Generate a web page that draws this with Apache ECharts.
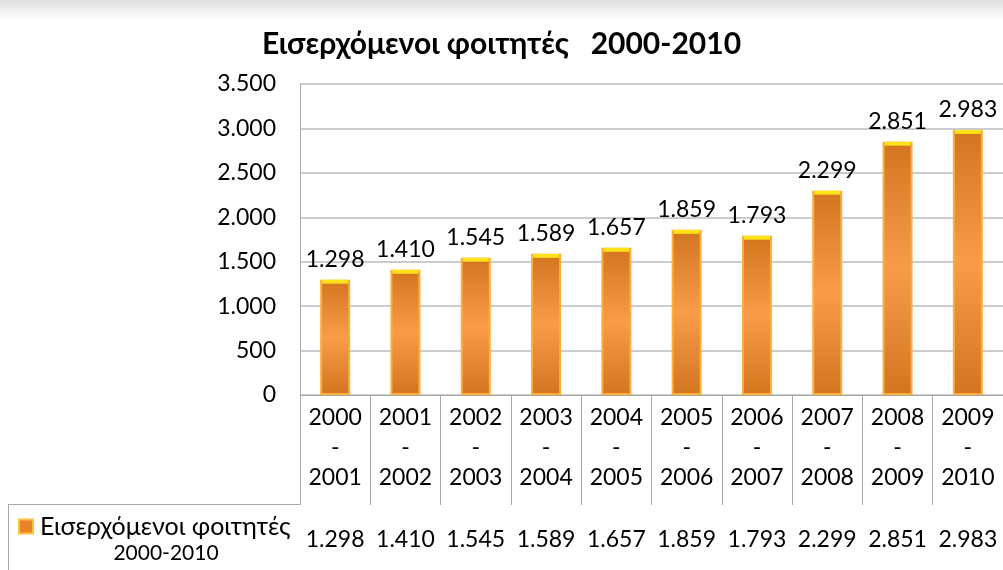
<!DOCTYPE html>
<html>
<head>
<meta charset="utf-8">
<script src="https://cdn.jsdelivr.net/npm/echarts@6/dist/echarts.min.js"></script>
<style>
  html, body { margin: 0; padding: 0; background: #fff; }
  #chart { width: 1003px; height: 570px; }
</style>
</head>
<body>
<div id="chart"></div>
<script>
// categories (academic years) and incoming students
var years = ['2000\n-\n2001', '2001\n-\n2002', '2002\n-\n2003', '2003\n-\n2004', '2004\n-\n2005',
             '2005\n-\n2006', '2006\n-\n2007', '2007\n-\n2008', '2008\n-\n2009', '2009\n-\n2010'];
var students = [1298, 1410, 1545, 1589, 1657, 1859, 1793, 2299, 2851, 2983];
var seriesName = 'Εισερχόμενοι φοιτητές';
var seriesSub = '2000-2010';
var yTicks = [0, 500, 1000, 1500, 2000, 2500, 3000, 3500];

// greek style thousands separator: 1.298
function fmt(v) {
  return String(v).replace(/\B(?=(\d{3})+(?!\d))/g, '.');
}

var font = 'Lato, "Noto Sans", sans-serif';
var myChart = echarts.init(document.getElementById('chart'));

myChart.setOption({
  animation: false,
  title: {
    text: 'Εισερχόμενοι φοιτητές   2000-2010',
    left: 'center',
    top: 24,
    textStyle: { fontFamily: font, fontSize: 30, fontWeight: 'bold', color: '#000' }
  },
  legend: {
    left: 13,
    top: 509,
    itemWidth: 14,
    itemHeight: 14,
    itemGap: 0,
    icon: 'rect',
    data: [{ name: seriesName, itemStyle: { color: '#e8832a', borderColor: '#fdc040', borderWidth: 2 } }],
    textStyle: { color: '#000', fontFamily: font, fontSize: 25, padding: [0, 0, 0, 2] }
  },
  graphic: [
    { type: 'rect', shape: { x: 0, y: 0, width: 1003, height: 20 },
      style: { fill: new echarts.graphic.LinearGradient(0, 0, 0, 1, [
        { offset: 0, color: '#e0e0e0' }, { offset: 1, color: '#ffffff' }]) }, z: -1 },
    { type: 'text', x: 166, y: 553,
      style: { text: seriesSub, align: 'center', verticalAlign: 'middle',
               fontFamily: font, fontSize: 21, fill: '#000' } },
    { type: 'line', shape: { x1: 8, y1: 504.5, x2: 300, y2: 504.5 },
      style: { stroke: '#aaa', lineWidth: 1 } },
    { type: 'line', shape: { x1: 8.5, y1: 504, x2: 8.5, y2: 570 },
      style: { stroke: '#aaa', lineWidth: 1 } }
  ],
  grid: [
    { left: 300, right: 0, top: 84, bottom: 175 },
    { left: 300, right: 0, top: 504, height: 66 }
  ],
  xAxis: [
    {
      type: 'category',
      gridIndex: 0,
      data: years,
      axisLine: { lineStyle: { color: '#aaa', width: 1 } },
      axisTick: { show: true, length: 110, interval: 0, lineStyle: { color: '#aaa' } },
      axisLabel: {
        interval: 0, margin: 8, color: '#000', fontFamily: font, fontSize: 23, lineHeight: 30
      }
    },
    {
      type: 'category',
      gridIndex: 1,
      position: 'top',
      data: students.map(fmt),
      axisLine: { show: true, lineStyle: { color: '#aaa', width: 1 } },
      axisTick: { show: true, inside: true, length: 70, interval: 0, lineStyle: { color: '#aaa' } },
      axisLabel: {
        inside: true, interval: 0, margin: 24, color: '#000', fontFamily: font, fontSize: 23
      }
    }
  ],
  yAxis: [
    {
      type: 'value',
      gridIndex: 0,
      min: yTicks[0],
      max: yTicks[yTicks.length - 1],
      interval: 500,
      axisLine: { show: true, lineStyle: { color: '#aaa' } },
      axisTick: { show: false },
      splitLine: { lineStyle: { color: '#bbb', width: 1.5 } },
      axisLabel: {
        margin: 24, color: '#000', fontFamily: font, fontSize: 23,
        formatter: function (v) { return fmt(v); }
      }
    },
    { type: 'value', gridIndex: 1, show: false }
  ],
  series: [
    {
      name: seriesName,
      type: 'bar',
      xAxisIndex: 0,
      yAxisIndex: 0,
      barWidth: 30,
      data: students,
      itemStyle: {
        color: new echarts.graphic.LinearGradient(0, 0, 0, 1, [
          { offset: 0, color: '#d3751f' },
          { offset: 0.5, color: '#f89c48' },
          { offset: 1, color: '#d3751f' }
        ]),
        borderColor: '#fdae3a',
        borderWidth: 2
      },
      label: {
        show: true,
        position: 'top',
        distance: 9,
        color: '#000',
        fontFamily: font,
        fontSize: 23,
        formatter: function (p) { return fmt(p.value); }
      }
    },
    {
      name: 'cap',
      type: 'pictorialBar',
      xAxisIndex: 0,
      yAxisIndex: 0,
      symbol: 'rect',
      symbolSize: [26, 4],
      symbolPosition: 'end',
      symbolOffset: [0, 0],
      data: students,
      itemStyle: { color: '#ffe21a' },
      z: 3,
      silent: true
    }
  ]
});
</script>
</body>
</html>
